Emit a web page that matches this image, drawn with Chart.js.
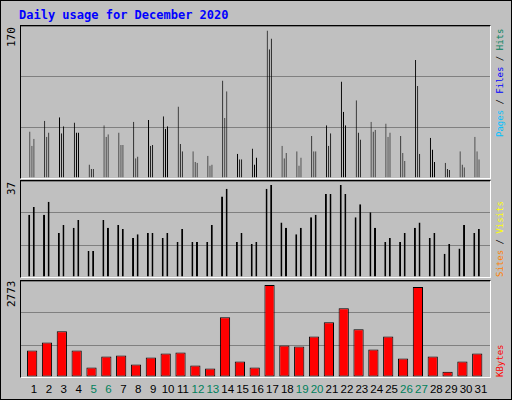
<!DOCTYPE html>
<html><head><meta charset="utf-8">
<script src="https://cdn.jsdelivr.net/npm/chart.js@4"></script>
<style>
body{margin:0;background:#fff}
#wrap{position:relative;width:510px;height:398px;background:#c0c0c0;border:1px solid #000;font-family:"DejaVu Sans Mono",monospace;overflow:hidden}
.panel{position:absolute;left:19px;width:471px;border-top:1px solid #000;border-left:1px solid #000;border-right:1px solid #fff;border-bottom:1px solid #fff;box-sizing:border-box}
.panel canvas{display:block}
.rl{position:absolute;font-size:11px;white-space:nowrap;transform-origin:0 0;transform:rotate(-90deg)}
.rr{position:absolute;font-size:9px;white-space:nowrap;transform-origin:0 0;transform:rotate(-90deg)}
.xl{position:absolute;top:382px;font-size:11.5px;width:20px;margin-left:-10px;text-align:center;font-family:"Liberation Sans",sans-serif}
#title{position:absolute;left:18px;top:7px;font-weight:bold;font-size:12px;color:#0000ff}
</style></head><body>
<div id="wrap">
<div id="title">Daily usage for December 2020</div>
<div class="panel" style="top:24px;height:154px"><canvas id="c1"></canvas></div>
<div class="panel" style="top:179px;height:98px"><canvas id="c2"></canvas></div>
<div class="panel" style="top:279px;height:98px"><canvas id="c3"></canvas></div>
<div class="rl" style="left:4px;top:46px">170</div>
<div class="rl" style="left:4px;top:194px">37</div>
<div class="rl" style="left:4px;top:306px">2773</div>
<div class="rr" style="left:494px;top:136px"><span style="color:#00c0ff">Pages</span> / <span style="color:#0000ff">Files</span> / <span style="color:#00805c">Hits</span></div>
<div class="rr" style="left:494px;top:276px"><span style="color:#ff8000">Sites</span> / <span style="color:#ffff00">Visits</span></div>
<div class="rr" style="left:494px;top:376px"><span style="color:#ff0000">KBytes</span></div>
<div id="xlabels"></div>
</div>
<script>
const days=[1,2,3,4,5,6,7,8,9,10,11,12,13,14,15,16,17,18,19,20,21,22,23,24,25,26,27,28,29,30,31];
const weekend=[5,6,12,13,19,20,26,27];
const hits=[52,64,68,62,15,59,51,63,65,69,80,30,25,109,27,33,165,36,30,47,59,108,87,63,61,47,132,45,17,30,46];
const files=[36,46,50,51,10,46,37,22,36,55,38,18,14,67,21,15,144,22,14,30,36,74,51,52,46,28,103,32,10,15,30];
const pages=[44,51,58,51,10,49,37,24,37,58,30,17,15,97,21,23,156,28,23,30,50,59,43,54,51,19,27,18,9,12,21];
const sites=[24,24,17,19,10,22,20,15,17,15,13.5,13.5,13.5,31,13.5,12.7,34,21,16.5,23,32,35.5,23,25,13.5,13.5,19,15,9,11,17];
const visits=[27,29,20,22,10,19,18.5,16.5,17,17,18.5,13.5,20,34,17,13.5,35.5,19,19,24,32,32,28,19,15,17,21,17,12.7,20,18.5];
const kbytes=[766,999,1319,766,271,591,621,359,562,679,708,330,242,1726,446,271,2657,911,882,1173,1580,1988,1377,795,1173,533,2599,591,155,446,679];
const maxTop=170,maxMid=37,maxBot=2773;

const xl=document.getElementById('xlabels');
days.forEach(d=>{const s=document.createElement('div');s.className='xl';s.style.left=(33+(d-1)*14.9)+'px';s.style.color=weekend.includes(d)?'#00805c':'#000';s.textContent=d;xl.appendChild(s);});

function mk(id,max,sets){
  const c=document.getElementById(id);
  return new Chart(c,{type:'bar',
    data:{datasets:sets.map(s=>({data:s.v.map((v,i)=>({x:days[i]+s.shift,y:v})),backgroundColor:s.c,borderColor:'#000',borderWidth:1,borderSkipped:false,grouped:false,order:s.order,categoryPercentage:1,barPercentage:s.w}))},
    options:{responsive:false,animation:false,devicePixelRatio:1,
      layout:{padding:0},
      plugins:{legend:{display:false},tooltip:{enabled:false}},
      scales:{
        x:{type:'linear',min:0.128,max:31.74,display:false,offset:false},
        y:{min:0,max:max,ticks:{display:false},border:{display:false},grid:{color:'#808080',drawTicks:false,tickLength:0},
           afterBuildTicks:a=>{a.ticks=[0,1,2,3].map(i=>({value:max*i/3}));},afterFit:a=>{a.width=0;}}
      }}});
}
function size(id,w,h){const c=document.getElementById(id);c.width=w;c.height=h;c.style.width=w+'px';c.style.height=h+'px';}
size('c1',469,152);size('c2',469,96);size('c3',469,96);
mk('c1',maxTop,[{v:hits,c:'#00805c',shift:-0.275,w:0.54,order:3},{v:files,c:'#0000ff',shift:-0.134,w:0.54,order:2},{v:pages,c:'#00c0ff',shift:0,w:0.54,order:1}]);
mk('c2',maxMid,[{v:sites,c:'#ffff00',shift:-0.32,w:0.43,order:2},{v:visits,c:'#ff8000',shift:-0.01,w:0.43,order:1}]);
mk('c3',maxBot,[{v:kbytes,c:'#ff0000',shift:-0.12,w:0.69,order:1}]);
</script>
</body></html>
